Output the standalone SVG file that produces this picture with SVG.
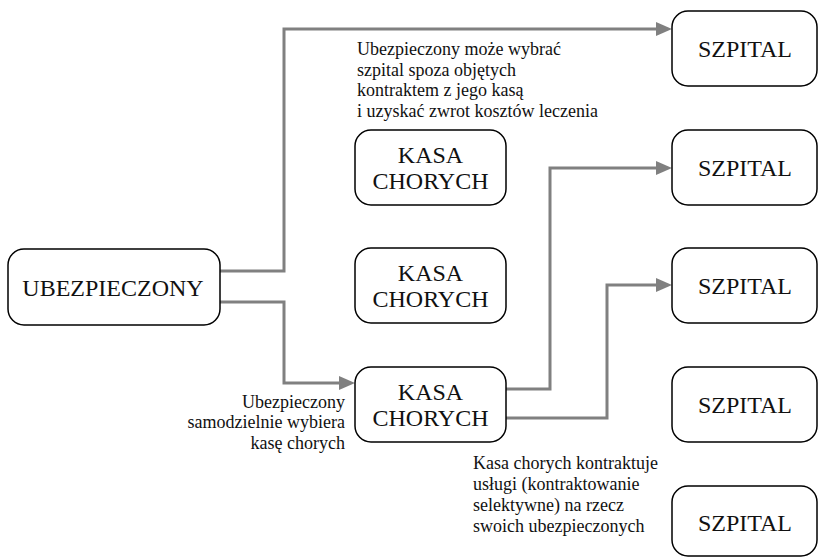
<svg xmlns="http://www.w3.org/2000/svg" width="819" height="558" viewBox="0 0 819 558" font-family="Liberation Serif, Times New Roman, serif">
<style>
.box{fill:#fff;stroke:#000;stroke-width:1.5}
.lbl{font-size:24px;fill:#111;text-anchor:middle}
.note{font-size:18px;fill:#111}
.con{fill:none;stroke:#808080;stroke-width:3}
</style>
<defs>
<marker id="arr" markerUnits="userSpaceOnUse" markerWidth="16" markerHeight="14" refX="0" refY="7" orient="auto" overflow="visible">
<path d="M0,0 L16,7 L0,14 z" fill="#808080"/>
</marker>
</defs>
<rect width="819" height="558" fill="#fff"/>
<g id="connectors">
<path class="con" d="M220,271 H284 V29 H656" marker-end="url(#arr)"/>
<path class="con" d="M220,302 H284 V383 H339" marker-end="url(#arr)"/>
<path class="con" d="M506,389 H550 V168 H656" marker-end="url(#arr)"/>
<path class="con" d="M506,418 H607 V285 H656" marker-end="url(#arr)"/>
</g>
<g id="ubezpieczony">
<rect class="box" x="8" y="249" width="212" height="76" rx="16"/>
<text class="lbl" x="113" y="296">UBEZPIECZONY</text>
</g>
<g id="kasa1">
<rect class="box" x="355" y="130" width="151" height="75" rx="16"/>
<text class="lbl" x="430.5" y="163">KASA</text>
<text class="lbl" x="430.5" y="189">CHORYCH</text>
</g>
<g id="kasa2">
<rect class="box" x="355" y="248" width="151" height="75" rx="16"/>
<text class="lbl" x="430.5" y="281">KASA</text>
<text class="lbl" x="430.5" y="307">CHORYCH</text>
</g>
<g id="kasa3">
<rect class="box" x="355" y="367" width="151" height="75" rx="16"/>
<text class="lbl" x="430.5" y="400">KASA</text>
<text class="lbl" x="430.5" y="426">CHORYCH</text>
</g>
<g id="szpital1">
<rect class="box" x="672" y="11" width="145" height="75" rx="16"/>
<text class="lbl" x="745" y="57">SZPITAL</text>
</g>
<g id="szpital2">
<rect class="box" x="672" y="130" width="145" height="75" rx="16"/>
<text class="lbl" x="745" y="176">SZPITAL</text>
</g>
<g id="szpital3">
<rect class="box" x="672" y="248" width="145" height="75" rx="16"/>
<text class="lbl" x="745" y="294">SZPITAL</text>
</g>
<g id="szpital4">
<rect class="box" x="672" y="367" width="145" height="75" rx="16"/>
<text class="lbl" x="745" y="413">SZPITAL</text>
</g>
<g id="szpital5">
<rect class="box" x="672" y="486" width="145" height="70" rx="16"/>
<text class="lbl" x="745" y="531">SZPITAL</text>
</g>
<g id="note-top">
<text class="note" x="357" y="55">Ubezpieczony może wybrać</text>
<text class="note" x="357" y="76">szpital spoza objętych</text>
<text class="note" x="357" y="96">kontraktem z jego kasą</text>
<text class="note" x="357" y="117">i uzyskać zwrot kosztów leczenia</text>
</g>
<g id="note-left" text-anchor="end">
<text class="note" x="345" y="408">Ubezpieczony</text>
<text class="note" x="345" y="428">samodzielnie wybiera</text>
<text class="note" x="345" y="449">kasę chorych</text>
</g>
<g id="note-bottom">
<text class="note" x="473" y="469">Kasa chorych kontraktuje</text>
<text class="note" x="473" y="490">usługi (kontraktowanie</text>
<text class="note" x="473" y="511">selektywne) na rzecz</text>
<text class="note" x="473" y="532">swoich ubezpieczonych</text>
</g>
</svg>
